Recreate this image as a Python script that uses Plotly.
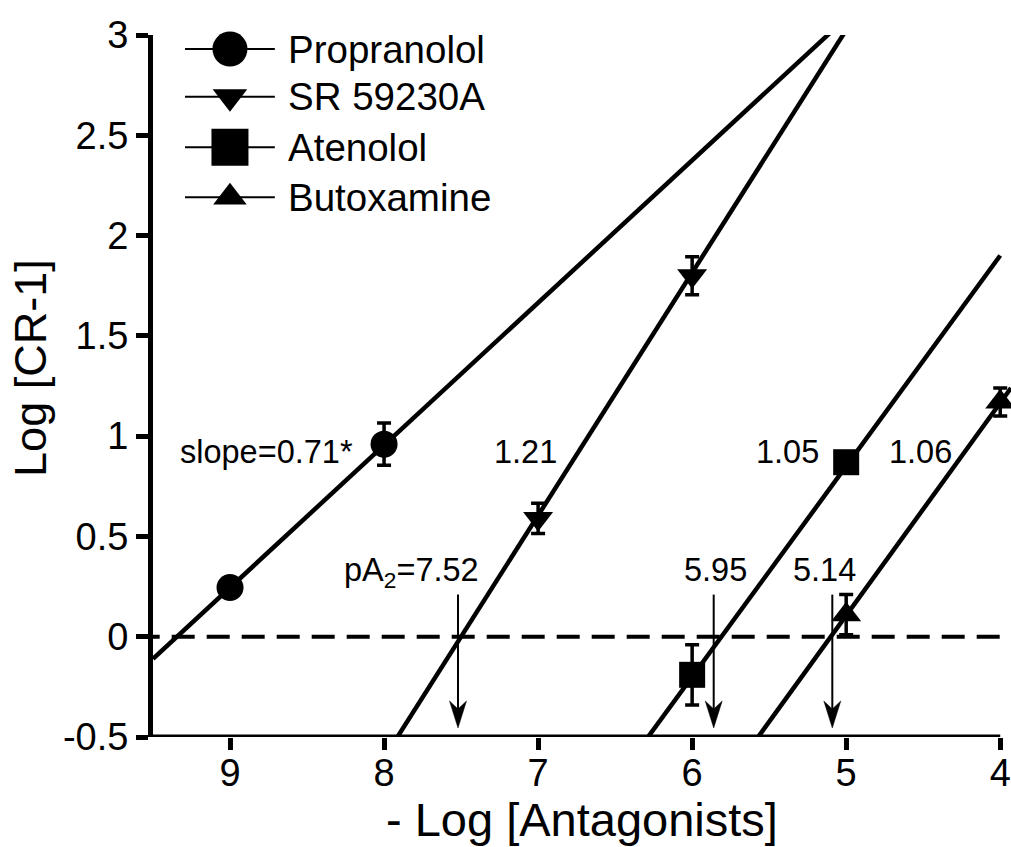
import plotly.graph_objects as go
import numpy as np

# ---------------- data ----------------
drugs = ["Propranolol", "SR 59230A", "Atenolol", "Butoxamine"]
symbols = ["circle", "triangle-down", "square", "triangle-up"]

x_prop = [9, 8]
y_prop = [0.245, 0.96]
e_prop = [0.04, 0.105]

x_sr = [7, 6]
y_sr = [0.59, 1.80]
e_sr = [0.075, 0.095]

x_aten = [6, 5]
y_aten = [-0.19, 0.87]
e_aten = [0.15, 0.03]

x_but = [5, 4]
y_but = [0.11, 1.17]
e_but = [0.10, 0.07]

# Schild regression: slope and x where log(CR-1)=0
slopes = [0.71, 1.21, 1.05, 1.06]
x_zero = [9.345, 7.50, 5.81, 5.10]
line_start = [9.5, 7.95, 6.35, 5.60]
line_end = [5.0, 5.0, 4.0, 3.93]

slope_labels = ["slope=0.71*", "1.21", "1.05", "1.06"]
slope_label_x = [8.76, 7.08, 5.38, 4.52]
slope_label_y = [0.92, 0.92, 0.92, 0.92]

pa2_labels = ["pA<sub>2</sub>=7.52", "5.95", "5.14"]
pa2_label_x = [7.82, 5.85, 5.14]
pa2_label_y = [0.32, 0.334, 0.334]
arrow_x = [7.52, 5.86, 5.09]
arrow_top = 0.21
arrow_tip = -0.455

x_ticks = [9, 8, 7, 6, 5, 4]
y_ticks = [-0.5, 0, 0.5, 1, 1.5, 2, 2.5, 3]
y_ticktext = ["-0.5", "0", "0.5", "1", "1.5", "2", "2.5", "3"]

xs = [x_prop, x_sr, x_aten, x_but]
ys = [y_prop, y_sr, y_aten, y_but]
es = [e_prop, e_sr, e_aten, e_but]

FONT = "Liberation Sans, Arial, Helvetica, sans-serif"

fig = go.Figure()

# regression lines
for i in range(4):
    lx = np.array([line_start[i], line_end[i]])
    ly = slopes[i] * (x_zero[i] - lx)
    fig.add_trace(go.Scatter(x=lx, y=ly, mode="lines",
                             line=dict(color="black", width=4.5),
                             showlegend=False, hoverinfo="skip"))

# data points with error bars
data_sizes = [27, 26, 26, 26]
for i in range(4):
    fig.add_trace(go.Scatter(
        x=xs[i], y=ys[i], mode="markers",
        marker=dict(symbol=symbols[i], size=data_sizes[i], color="black",
                    line=dict(width=0)),
        error_y=dict(type="data", array=es[i], visible=True,
                     color="black", thickness=3.5, width=7),
        cliponaxis=False, showlegend=False, name=drugs[i]))

# manual legend on overlay axes (plot-area fractions)
leg_y = [0.980, 0.912, 0.840, 0.769]
leg_sizes = [35, 30, 37, 29]
for i in range(4):
    fig.add_trace(go.Scatter(x=[0.0373, 0.142], y=[leg_y[i], leg_y[i]],
                             mode="lines", line=dict(color="black", width=2),
                             xaxis="x2", yaxis="y2", showlegend=False,
                             hoverinfo="skip"))
    fig.add_trace(go.Scatter(x=[0.0897], y=[leg_y[i]], mode="markers",
                             marker=dict(symbol=symbols[i], size=leg_sizes[i],
                                         color="black", line=dict(width=0)),
                             xaxis="x2", yaxis="y2", showlegend=False,
                             cliponaxis=False, hoverinfo="skip"))

annotations = []
for i in range(4):
    annotations.append(dict(x=0.155, y=leg_y[i], xref="paper", yref="paper",
                            text=drugs[i], showarrow=False, xanchor="left",
                            yanchor="middle",
                            font=dict(family=FONT, size=38.5, color="black")))
for i in range(4):
    annotations.append(dict(x=slope_label_x[i], y=slope_label_y[i],
                            xref="x", yref="y", text=slope_labels[i],
                            showarrow=False, xanchor="center", yanchor="middle",
                            font=dict(family=FONT, size=32.5, color="black")))
for i in range(3):
    annotations.append(dict(x=pa2_label_x[i], y=pa2_label_y[i],
                            xref="x", yref="y", text=pa2_labels[i],
                            showarrow=False, xanchor="center", yanchor="middle",
                            font=dict(family=FONT, size=32.5, color="black")))
# axis titles
annotations.append(dict(x=0.5, y=-0.118, xref="paper", yref="paper",
                        text="- Log [Antagonists]", showarrow=False,
                        xanchor="center", yanchor="middle",
                        font=dict(family=FONT, size=47, color="black")))
annotations.append(dict(x=-0.142, y=0.526, xref="paper", yref="paper",
                        text="Log [CR-1]", showarrow=False, textangle=-90,
                        xanchor="center", yanchor="middle",
                        font=dict(family=FONT, size=45, color="black")))

shapes = []
# x axis line
shapes.append(dict(type="line", xref="x", yref="y", x0=9.5, x1=4.0,
                   y0=-0.5, y1=-0.5, line=dict(color="black", width=5)))
# dashed zero line
shapes.append(dict(type="line", xref="paper", yref="y", x0=-0.019, x1=1.0,
                   y0=0, y1=0, line=dict(color="black", width=4, dash="23px,12px")))
# pA2 arrows
for ax in arrow_x:
    shapes.append(dict(type="line", xref="x", yref="y", x0=ax, x1=ax,
                       y0=arrow_top, y1=arrow_tip + 0.08,
                       line=dict(color="black", width=2)))
    shapes.append(dict(type="path", xref="x", yref="y",
                       xsizemode="pixel", ysizemode="pixel",
                       xanchor=ax, yanchor=arrow_tip,
                       path="M0,0 L-8.5,27 L0,19 L8.5,27 Z",
                       fillcolor="black", line=dict(color="black", width=0.5)))

fig.update_layout(
    width=1011, height=847,
    margin=dict(l=153, r=0, t=35, b=110),
    paper_bgcolor="white", plot_bgcolor="white",
    font=dict(family=FONT, color="black"),
    showlegend=False,
    xaxis=dict(range=[9.5, 3.93], tickvals=x_ticks,
               ticktext=[str(v) for v in x_ticks],
               ticks="outside", ticklen=12, tickwidth=5, tickcolor="black",
               ticklabelstandoff=-10,
               showline=False, showgrid=False, zeroline=False,
               tickfont=dict(family=FONT, size=38, color="black")),
    yaxis=dict(range=[-0.5, 3], tickvals=y_ticks, ticktext=y_ticktext,
               ticks="outside", ticklen=12, tickwidth=5, tickcolor="black",
               showline=True, linewidth=5, linecolor="black",
               showgrid=False, zeroline=False,
               tickfont=dict(family=FONT, size=38, color="black")),
    xaxis2=dict(overlaying="x", range=[0, 1], visible=False, fixedrange=True),
    yaxis2=dict(overlaying="y", range=[0, 1], visible=False, fixedrange=True),
    annotations=annotations,
    shapes=shapes,
)

fig.write_html("out.html")
